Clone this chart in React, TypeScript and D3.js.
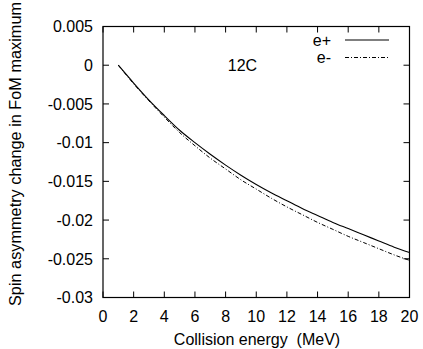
import React from 'react';
import * as d3 from 'd3';

// collision energy (MeV)
const energy = [1, 2, 3, 4, 5, 6, 7, 8, 9, 10, 11, 12, 13, 14, 15, 16, 17, 18, 19, 20];
// spin asymmetry change, positrons
const ePlus = [0, -0.0023, -0.0045, -0.0065, -0.0084, -0.0100, -0.0115, -0.0129, -0.0142, -0.0154,
  -0.0165, -0.0175, -0.0185, -0.0194, -0.0203, -0.0211, -0.0219, -0.0227, -0.0235, -0.0242];
// spin asymmetry change, electrons
const eMinus = [0, -0.0024, -0.0046, -0.0067, -0.0087, -0.0104, -0.0120, -0.0134, -0.0148, -0.0160,
  -0.0172, -0.0183, -0.0193, -0.0203, -0.0212, -0.0221, -0.0229, -0.0237, -0.0245, -0.0252];

const xTicks = [0, 2, 4, 6, 8, 10, 12, 14, 16, 18, 20];
const yTicks = [0.005, 0, -0.005, -0.01, -0.015, -0.02, -0.025, -0.03];
const yTickLabels = ['0.005', '0', '-0.005', '-0.01', '-0.015', '-0.02', '-0.025', '-0.03'];

const W = 423;
const H = 349;
const margin = { top: 26.5, right: 13.5, bottom: 51.5, left: 103 };
const font = '"Liberation Sans", Arial, Helvetica, sans-serif';

const App = () => {
  const x = d3.scaleLinear().domain([0, 20]).range([margin.left, W - margin.right]);
  const y = d3.scaleLinear().domain([-0.03, 0.005]).range([H - margin.bottom, margin.top]);

  const line = d3.line<number>()
    .x((d, i) => x(energy[i]))
    .y(d => y(d))
    .curve(d3.curveMonotoneX);

  const x0 = x(0), x1 = x(20), y0 = y(-0.03), y1 = y(0.005);
  const tl = 6;

  return (
    <svg width={W} height={H} style={{ position: 'absolute', left: 0, top: 0, background: '#fff' }}
      fontFamily={font} fontSize={16}>
      <rect x={0} y={0} width={W} height={H} fill="#fff" />
      {/* ticks, mirrored on all sides */}
      {xTicks.map(t => (
        <g key={'xt' + t}>
          <line x1={x(t)} x2={x(t)} y1={y0} y2={y0 - tl} stroke="#000" />
          <line x1={x(t)} x2={x(t)} y1={y1} y2={y1 + tl} stroke="#000" />
          <text x={x(t)} y={321.5} textAnchor="middle">{t}</text>
        </g>
      ))}
      {yTicks.map((t, i) => (
        <g key={'yt' + i}>
          <line x1={x0} x2={x0 + tl} y1={y(t)} y2={y(t)} stroke="#000" />
          <line x1={x1} x2={x1 - tl} y1={y(t)} y2={y(t)} stroke="#000" />
          <text x={x0 - 10} y={y(t)} dy="0.36em" textAnchor="end">{yTickLabels[i]}</text>
        </g>
      ))}
      <rect x={x0} y={y1} width={x1 - x0} height={y0 - y1} fill="none" stroke="#000" strokeWidth={1.2} />

      <path d={line(ePlus) || ''} fill="none" stroke="#000" strokeWidth={1.1} />
      <path d={line(eMinus) || ''} fill="none" stroke="#000" strokeWidth={1} strokeDasharray="4,2,1,2" />

      {/* legend */}
      <text x={331} y={45.5} textAnchor="end">e+</text>
      <line x1={345} x2={389} y1={40} y2={40} stroke="#000" strokeWidth={1.1} />
      <text x={331} y={63} textAnchor="end">e-</text>
      <line x1={345} x2={389} y1={57.5} y2={57.5} stroke="#000" strokeWidth={1} strokeDasharray="4,2,1,2" />

      <text x={x(9.1)} y={y(0)} dy="0.36em" textAnchor="middle">12C</text>

      <text x={257} y={345} textAnchor="middle" style={{ whiteSpace: 'pre' }}>{'Collision energy  (MeV)'}</text>
      <text transform="translate(21,154) rotate(-90)" textAnchor="middle" fontSize={16.3}>Spin asymmetry change in FoM maximum</text>
    </svg>
  );
};

export default App;
